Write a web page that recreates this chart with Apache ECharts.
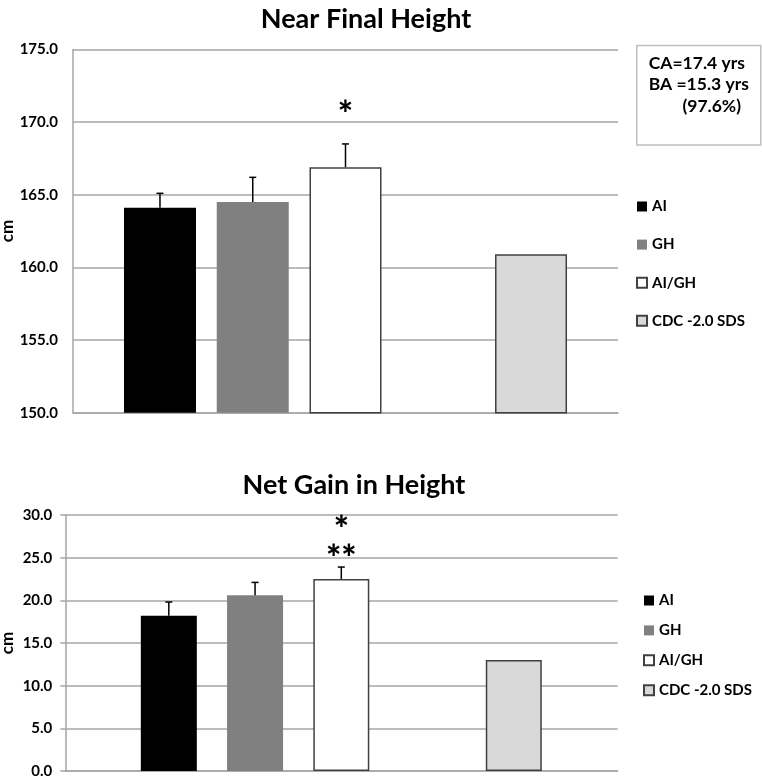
<!DOCTYPE html>
<html>
<head>
<meta charset="utf-8">
<script src="https://cdn.jsdelivr.net/npm/echarts@6/dist/echarts.min.js"></script>
<style>
html,body{margin:0;padding:0;background:#fff;}
#chart{width:762px;height:777px;}
</style>
</head>
<body>
<div id="chart"></div>
<script>
// ---- data ----
const categories = ['AI', 'GH', 'AI/GH', '', 'CDC -2.0 SDS']; // '' = empty slot
const groups = ['AI', 'GH', 'AI/GH', 'CDC -2.0 SDS'];
const groupColors = ['#000000', '#808080', '#ffffff', '#d9d9d9'];
const groupBorders = ['#000000', '#808080', '#404040', '#404040'];

const heightTitle = 'Near Final Height';
const heightMeans = [164.1, 164.5, 166.9, 160.9];
const heightUpper = [165.1, 166.2, 168.5, null];
const heightMin = 150, heightMax = 175, heightStep = 5;
const heightSig = [{ cat: 'AI/GH', y: 171.1, text: '*' }];

const gainTitle = 'Net Gain in Height';
const gainMeans = [18.2, 20.6, 22.5, 13.0];
const gainUpper = [19.8, 22.1, 23.9, null];
const gainMin = 0, gainMax = 30, gainStep = 5;
const gainSig = [{ cat: 'AI/GH', y: 29.2, text: '*' }, { cat: 'AI/GH', y: 25.9, text: '**' }];

const noteLines = ['CA=17.4 yrs', 'BA =15.3 yrs', '(97.6%)'];
const yUnit = 'cm';

// ---- styling ----
const FONT = 'Lato, "Open Sans", sans-serif';
const GRID_COLOR = '#a6a6a6';

const chart = echarts.init(document.getElementById('chart'));

function barSeries(means, xi, yi, bw) {
  return groups.map((g, i) => ({
    type: 'bar', name: g, xAxisIndex: xi, yAxisIndex: yi,
    barWidth: bw, barGap: '-100%',
    itemStyle: { color: groupColors[i], borderColor: groupBorders[i], borderWidth: i >= 2 ? 1.5 : 0 },
    data: categories.map(c => c === g ? means[i] : '-'),
    silent: true
  }));
}

function errSeries(means, upper, xi, yi) {
  const data = [];
  groups.forEach((g, i) => { if (upper[i] != null) data.push([categories.indexOf(g), means[i], upper[i]]); });
  return {
    type: 'custom', xAxisIndex: xi, yAxisIndex: yi, silent: true, z: 5,
    renderItem: function (params, api) {
      const p0 = api.coord([api.value(0), api.value(1)]);
      const p1 = api.coord([api.value(0), api.value(2)]);
      const st = { stroke: '#000', lineWidth: 1.5 };
      return { type: 'group', children: [
        { type: 'line', shape: { x1: p0[0], y1: p0[1], x2: p1[0], y2: p1[1] }, style: st },
        { type: 'line', shape: { x1: p1[0] - 3.5, y1: p1[1], x2: p1[0] + 3.5, y2: p1[1] }, style: st }
      ]};
    },
    data: data
  };
}

function sigSeries(sig, xi, yi) {
  return {
    type: 'custom', xAxisIndex: xi, yAxisIndex: yi, silent: true, z: 6,
    renderItem: function (params, api) {
      const p = api.coord([api.value(0), api.value(1)]);
      return { type: 'text', x: p[0], y: p[1] + 9, style: {
        text: sig[params.dataIndex].text, fill: '#000', align: 'center', verticalAlign: 'middle',
        font: '900 36px ' + FONT
      }};
    },
    data: sig.map(s => [categories.indexOf(s.cat), s.y])
  };
}

function bgY(min, max, step, gridIndex, nameGap, margin, showTick) {
  return {
    type: 'value', gridIndex: gridIndex, min: min, max: max, interval: step,
    name: yUnit, nameLocation: 'middle', nameGap: nameGap, nameRotate: 90, nameMoveOverlap: false,
    nameTextStyle: { fontFamily: FONT, fontWeight: 'bold', fontSize: 17, color: '#000' },
    axisLine: { show: true, lineStyle: { color: GRID_COLOR, width: 1.5 } },
    axisTick: { show: showTick, length: 5, lineStyle: { color: GRID_COLOR, width: 1.5 } },
    axisLabel: { margin: margin, fontFamily: FONT, fontWeight: 'bold', fontSize: 15, color: '#000',
      formatter: v => v.toFixed(1) },
    splitLine: { show: true, lineStyle: { color: GRID_COLOR, width: 1.5 } }
  };
}
function hiddenY(min, max, step, gridIndex) {
  return { type: 'value', gridIndex: gridIndex, min: min, max: max, interval: step, show: false,
    splitLine: { show: false } };
}
function bgX(gridIndex) {
  return { type: 'category', gridIndex: gridIndex, data: [''],
    axisLine: { show: true, lineStyle: { color: GRID_COLOR, width: 1.5 } },
    axisTick: { show: false }, axisLabel: { show: false } };
}
function barX(gridIndex) {
  return { type: 'category', gridIndex: gridIndex, data: categories, show: false };
}

const legendStyle = { fontFamily: FONT, fontWeight: 'bold', fontSize: 15, color: '#000', lineHeight: 14 };
const gridBase = { outerBoundsMode: 'none', containLabel: false };

const option = {
  animation: false,
  backgroundColor: '#fff',
  title: [
    { text: heightTitle, left: 361, top: 1, textAlign: 'center',
      textStyle: { fontFamily: FONT, fontWeight: 'bold', fontSize: 27, color: '#000' } },
    { text: gainTitle, left: 349, top: 467, textAlign: 'center',
      textStyle: { fontFamily: FONT, fontWeight: 'bold', fontSize: 27, color: '#000' } }
  ],
  legend: [
    { orient: 'vertical', left: 636, top: 199, padding: 0, itemWidth: 10, itemHeight: 10, itemGap: 23.1,
      icon: 'rect', data: groups, textStyle: legendStyle, selectedMode: false },
    { orient: 'vertical', left: 643, top: 593, padding: 0, itemWidth: 10, itemHeight: 10, itemGap: 14.9,
      icon: 'rect', data: groups, textStyle: legendStyle, selectedMode: false }
  ],
  grid: [
    Object.assign({ left: 73, right: 144, top: 49.5, bottom: 364.3 }, gridBase),
    Object.assign({ left: 113.6, right: 184.6, top: 49.5, bottom: 364.3 }, gridBase),
    Object.assign({ left: 65.3, right: 144.3, top: 515, bottom: 6 }, gridBase),
    Object.assign({ left: 125.7, right: 205.1, top: 515, bottom: 6 }, gridBase)
  ],
  xAxis: [bgX(0), barX(1), bgX(2), barX(3)],
  yAxis: [
    bgY(heightMin, heightMax, heightStep, 0, 57, 15, false),
    hiddenY(heightMin, heightMax, heightStep, 1),
    bgY(gainMin, gainMax, gainStep, 2, 49, 13, true),
    hiddenY(gainMin, gainMax, gainStep, 3)
  ],
  graphic: [
    { type: 'rect', left: 636, top: 44.7, shape: { width: 124, height: 99.6 },
      style: { fill: '#fff', stroke: '#bfbfbf', lineWidth: 1.5 } },
    { type: 'text', left: 648.7, top: 54, style: { text: noteLines[0], font: 'bold 17.5px ' + FONT, fill: '#000' } },
    { type: 'text', left: 648.7, top: 75.5, style: { text: noteLines[1], font: 'bold 17.5px ' + FONT, fill: '#000' } },
    { type: 'text', right: 21, top: 97, style: { text: noteLines[2], font: 'bold 17.5px ' + FONT, fill: '#000' } }
  ],
  series: [].concat(
    barSeries(heightMeans, 1, 1, 72),
    [errSeries(heightMeans, heightUpper, 1, 1), sigSeries(heightSig, 1, 1)],
    barSeries(gainMeans, 3, 3, 56),
    [errSeries(gainMeans, gainUpper, 3, 3), sigSeries(gainSig, 3, 3)]
  )
};
chart.setOption(option);
</script>
</body>
</html>
